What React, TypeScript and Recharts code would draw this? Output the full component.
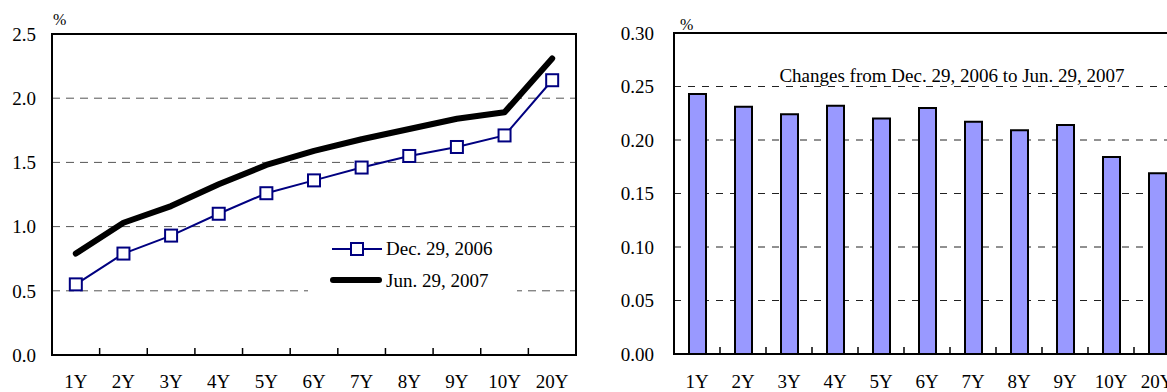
import {
  ComposedChart,
  BarChart,
  Bar,
  Line,
  XAxis,
  YAxis,
  CartesianGrid,
  ReferenceArea,
  Legend,
} from 'recharts';

const tenors = ['1Y', '2Y', '3Y', '4Y', '5Y', '6Y', '7Y', '8Y', '9Y', '10Y', '20Y'];
const dec2006 = [0.55, 0.79, 0.93, 1.1, 1.26, 1.36, 1.46, 1.55, 1.62, 1.71, 2.14];
const jun2007 = [0.79, 1.03, 1.16, 1.33, 1.48, 1.59, 1.68, 1.76, 1.84, 1.89, 2.31];
const changes = [0.243, 0.231, 0.224, 0.232, 0.22, 0.23, 0.217, 0.209, 0.214, 0.184, 0.169];

const levelTicks = [0, 0.5, 1.0, 1.5, 2.0, 2.5];
const changeTicks = [0, 0.05, 0.1, 0.15, 0.2, 0.25, 0.3];

const yieldRows = tenors.map((t, i) => ({ tenor: t, dec: dec2006[i], jun: jun2007[i] }));
const changeRows = tenors.map((t, i) => ({ tenor: t, change: changes[i] }));

const FONT = '"Liberation Serif", "Times New Roman", serif';
const NAVY = '#000080';
const CHART_H = 392;

// category label plus a short inward tick on the boundary to its left
function makeTick(bandWidth: number, axisY: number, baseline: number) {
  return (props: any) => {
    const { x, payload, index } = props;
    const bx = x - bandWidth / 2;
    return (
      <g>
        {index > 0 && <line x1={bx} x2={bx} y1={axisY} y2={axisY - 7} stroke="#000" strokeWidth={1.5} />}
        <text x={x} y={baseline} textAnchor="middle" fontSize={19} fontFamily={FONT} fill="#000">
          {payload.value}
        </text>
      </g>
    );
  };
}

function SquareDot(props: any) {
  const { cx, cy } = props;
  if (cx == null || cy == null) return null;
  return <rect x={cx - 6} y={cy - 6} width={12} height={12} fill="#fff" stroke={NAVY} strokeWidth={2} />;
}

function CurveLegend() {
  const row = (top: number, label: string, thick: boolean) => (
    <div style={{ position: 'absolute', left: 0, top, height: 32, width: 209 }}>
      <svg width={80} height={32} style={{ position: 'absolute', left: 0, top: 0 }}>
        {thick ? (
          <line x1={25} x2={71} y1={15} y2={15} stroke="#000" strokeWidth={6} strokeLinecap="round" />
        ) : (
          <g>
            <line x1={24} x2={74} y1={16} y2={16} stroke={NAVY} strokeWidth={2} />
            <rect x={43} y={10} width={12} height={12} fill="#fff" stroke={NAVY} strokeWidth={2} />
          </g>
        )}
      </svg>
      <span
        style={{
          position: 'absolute',
          left: 78,
          top: 5,
          fontSize: 19,
          lineHeight: '22px',
          fontFamily: FONT,
          whiteSpace: 'nowrap',
        }}
      >
        {label}
      </span>
    </div>
  );
  return (
    <div style={{ position: 'relative', width: 209, height: 66, background: '#fff' }}>
      {row(1, 'Dec. 29, 2006', false)}
      {row(33, 'Jun. 29, 2007', true)}
    </div>
  );
}

const axisTick = { fontSize: 19, fontFamily: FONT, fill: '#000' };

export default function App() {
  const leftBand = 524 / tenors.length;
  const rightBand = 506 / tenors.length;
  return (
    <div style={{ position: 'relative', width: 1167, height: CHART_H, overflow: 'hidden', background: '#fff' }}>
      <style>{`body{margin:0}`}</style>

      <div style={{ position: 'absolute', left: 0, top: 0 }}>
        <ComposedChart width={600} height={CHART_H} data={yieldRows} margin={{ top: 34, right: 24, bottom: 0, left: 0 }}>
          <CartesianGrid vertical={false} stroke="#555" strokeDasharray="8 6" />
          <XAxis
            dataKey="tenor"
            scale="band"
            height={37}
            interval={0}
            tickLine={false}
            axisLine={{ stroke: '#000', strokeWidth: 2 }}
            tick={makeTick(leftBand, CHART_H - 37, 388)}
          />
          <YAxis
            width={52}
            domain={[0, 2.5]}
            ticks={levelTicks}
            tickLine={false}
            tickSize={1}
            tickMargin={15}
            tickFormatter={(v: number) => v.toFixed(1)}
            axisLine={{ stroke: '#000', strokeWidth: 2 }}
            tick={axisTick}
          />
          <ReferenceArea y1={0} y2={2.5} fill="none" stroke="#000" strokeWidth={2} />
          <Line
            dataKey="dec"
            stroke={NAVY}
            strokeWidth={2}
            dot={<SquareDot />}
            activeDot={false}
            isAnimationActive={false}
          />
          <Line
            dataKey="jun"
            stroke="#000"
            strokeWidth={6}
            strokeLinejoin="round"
            strokeLinecap="round"
            dot={false}
            activeDot={false}
            isAnimationActive={false}
          />
          <Legend
            layout="vertical"
            align="center"
            verticalAlign="middle"
            width={209}
            content={() => <CurveLegend />}
            wrapperStyle={{ left: 308, top: 232, width: 209, height: 66 }}
          />
        </ComposedChart>
      </div>

      <div style={{ position: 'absolute', left: 600, top: 0 }}>
        <BarChart width={600} height={CHART_H} data={changeRows} barSize={17} margin={{ top: 33, right: 20, bottom: 0, left: 0 }}>
          <CartesianGrid vertical={false} stroke="#222" strokeDasharray="7 7" />
          <XAxis
            dataKey="tenor"
            height={38}
            interval={0}
            tickLine={false}
            axisLine={{ stroke: '#000', strokeWidth: 2 }}
            tick={makeTick(rightBand, CHART_H - 38, 388)}
          />
          <YAxis
            width={74}
            domain={[0, 0.3]}
            ticks={changeTicks}
            tickLine={false}
            tickSize={1}
            tickMargin={19}
            tickFormatter={(v: number) => v.toFixed(2)}
            axisLine={{ stroke: '#000', strokeWidth: 2 }}
            tick={axisTick}
          />
          <ReferenceArea y1={0} y2={0.3} fill="none" stroke="#000" strokeWidth={2} />
          <Bar dataKey="change" fill="#9999FF" stroke="#000" strokeWidth={2} isAnimationActive={false} />
        </BarChart>
      </div>

      <svg width={1167} height={CHART_H} style={{ position: 'absolute', left: 0, top: 0, pointerEvents: 'none' }}>
        <text x={53} y={25} fontSize={16} fontFamily={FONT}>%</text>
        <text x={680} y={30} fontSize={16} fontFamily={FONT}>%</text>
        <text x={952} y={82} textAnchor="middle" fontSize={19} fontFamily={FONT}>
          Changes from Dec. 29, 2006 to Jun. 29, 2007
        </text>
      </svg>
    </div>
  );
}
